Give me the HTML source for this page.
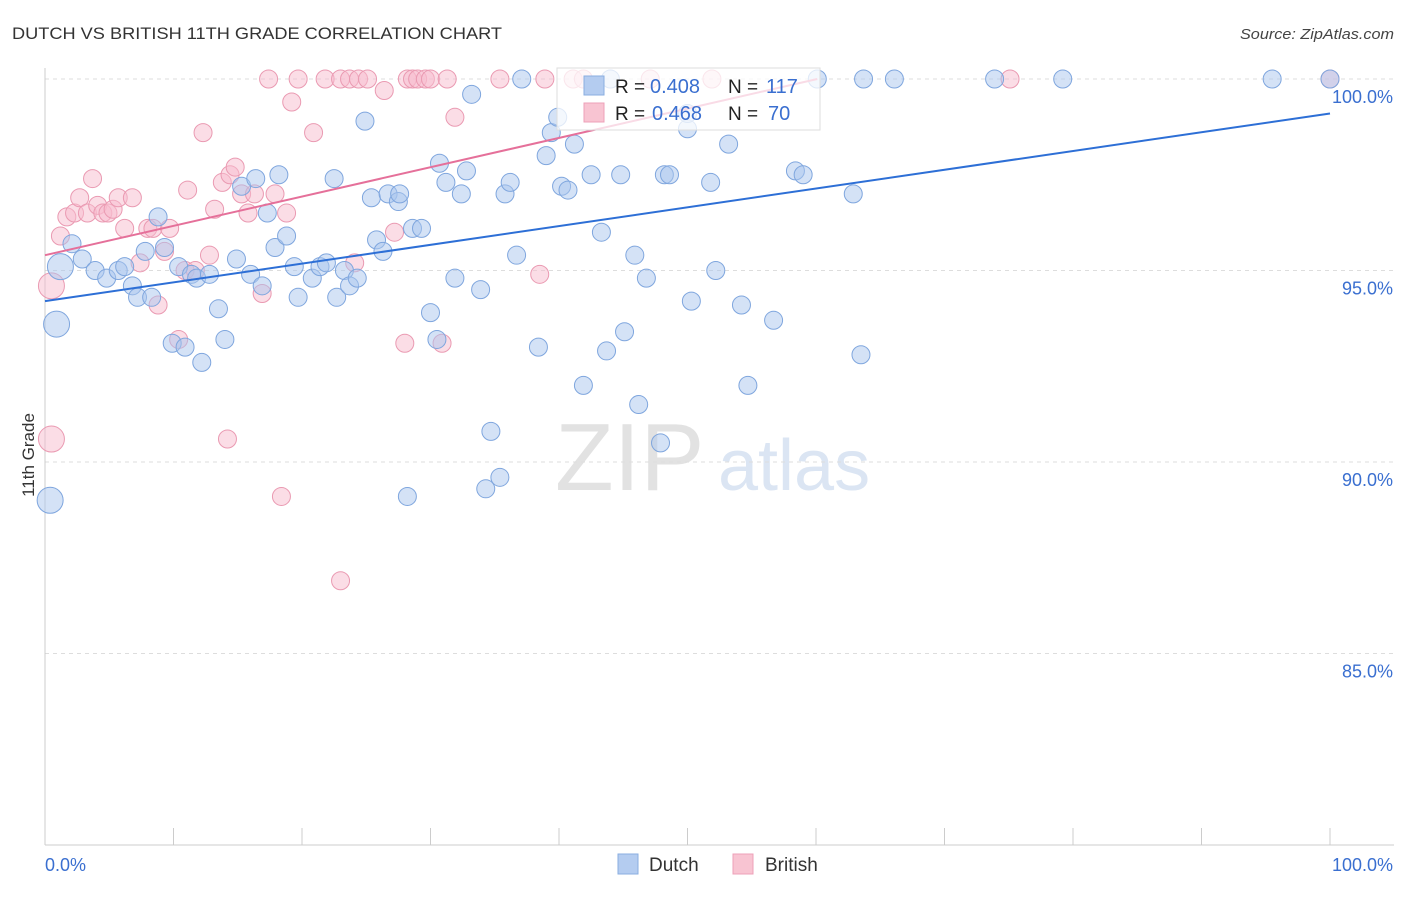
<!DOCTYPE html>
<html><head><meta charset="utf-8">
<style>
body{margin:0;background:#fff;font-family:"Liberation Sans",sans-serif;}
svg text{font-family:"Liberation Sans",sans-serif;}
</style></head>
<body>
<svg id="chart" width="1406" height="892" xmlns="http://www.w3.org/2000/svg">
<text x="12" y="39" font-size="17" fill="#333" textLength="490" lengthAdjust="spacingAndGlyphs">DUTCH VS BRITISH 11TH GRADE CORRELATION CHART</text>
<text x="1394" y="39" font-size="15" fill="#444" text-anchor="end" font-style="italic" textLength="154" lengthAdjust="spacingAndGlyphs">Source: ZipAtlas.com</text>
<g>
<text x="555" y="490" font-size="96" fill="#e2e2e2" font-family="Liberation Serif,serif">ZIP</text>
<text x="718" y="490" font-size="72" fill="#dbe5f3">atlas</text>
</g>
<g id="grid"></g>
<g id="axes"></g>
<g id="pts"></g>
<g id="lines"></g>
<text transform="translate(34,455) rotate(-90)" font-size="17" fill="#333" text-anchor="middle">11th Grade</text>
<g>
<rect x="557" y="68" width="263" height="62" fill="#fff" fill-opacity="0.75" stroke="#ddd"/>
<rect x="584" y="76" width="20" height="19" fill="#b4ccf0" stroke="#8aaee0"/>
<rect x="584" y="103" width="20" height="19" fill="#f8c4d2" stroke="#eea0b8"/>
<text x="615" y="93" font-size="19" fill="#222">R =</text>
<text x="650" y="93" font-size="20" fill="#3a6fd0">0.408</text>
<text x="728" y="93" font-size="19" fill="#222">N =</text>
<text x="766" y="93" font-size="20" fill="#3a6fd0">117</text>
<text x="615" y="120" font-size="19" fill="#222">R =</text>
<text x="652" y="120" font-size="20" fill="#3a6fd0">0.468</text>
<text x="728" y="120" font-size="19" fill="#222">N =</text>
<text x="768" y="120" font-size="20" fill="#3a6fd0">70</text>
</g>
<g>
<rect x="618" y="854" width="20" height="20" fill="#b4ccf0" stroke="#8aaee0"/>
<text x="649" y="871" font-size="19" fill="#333">Dutch</text>
<rect x="733" y="854" width="20" height="20" fill="#f8c4d2" stroke="#eea0b8"/>
<text x="765" y="871" font-size="19" fill="#333">British</text>
</g>
</svg>
<script>
const blueX=[0.9,0.4,1.2,2.1,2.9,3.9,4.8,5.7,6.2,6.8,7.2,8.3,7.8,8.8,9.3,9.9,10.4,10.9,11.4,11.8,12.2,12.8,13.5,14.0,14.9,15.3,16.0,16.4,16.9,17.3,17.9,18.2,18.8,19.4,19.7,20.8,21.4,21.9,22.5,22.7,23.3,23.7,24.3,24.9,25.4,25.8,26.3,26.7,27.5,27.6,28.2,28.6,29.3,30.0,30.5,30.7,31.2,31.9,32.4,32.8,33.2,33.9,34.3,34.7,35.4,35.8,36.2,36.7,37.1,38.4,39.0,39.4,39.9,40.2,40.7,41.2,41.9,42.5,43.3,43.7,44.0,44.8,45.1,45.9,46.2,46.8,47.9,48.2,48.6,50.0,50.0,50.3,51.8,52.2,53.2,54.2,54.7,56.7,58.4,59.0,60.1,62.9,63.5,63.7,66.1,73.9,79.2,95.5,100];
const blueY=[93.6,89.0,95.1,95.7,95.3,95.0,94.8,95.0,95.1,94.6,94.3,94.3,95.5,96.4,95.6,93.1,95.1,93.0,94.9,94.8,92.6,94.9,94.0,93.2,95.3,97.2,94.9,97.4,94.6,96.5,95.6,97.5,95.9,95.1,94.3,94.8,95.1,95.2,97.4,94.3,95.0,94.6,94.8,98.9,96.9,95.8,95.5,97.0,96.8,97.0,89.1,96.1,96.1,93.9,93.2,97.8,97.3,94.8,97.0,97.6,99.6,94.5,89.3,90.8,89.6,97.0,97.3,95.4,100,93.0,98.0,98.6,99.0,97.2,97.1,98.3,92.0,97.5,96.0,92.9,100,97.5,93.4,95.4,91.5,94.8,90.5,97.5,97.5,98.7,99.1,94.2,97.3,95.0,98.3,94.1,92.0,93.7,97.6,97.5,100,97.0,92.8,100,100,100,100,100,100];
const blueBig=[0,1,2];
const pinkX=[0.5,0.5,1.2,1.7,2.3,2.7,3.3,3.7,4.1,4.5,4.9,5.3,5.7,6.2,6.8,7.4,8.0,8.4,8.8,9.3,9.7,10.4,10.9,11.1,11.7,12.3,12.8,13.2,13.8,14.2,14.4,14.8,15.3,15.8,16.3,16.9,17.4,17.9,18.4,18.8,19.2,19.7,20.9,21.8,23.0,23.0,23.7,24.1,24.4,25.1,26.4,27.2,28.0,28.2,28.6,29.0,29.6,30.0,30.9,31.3,31.9,35.4,38.5,38.9,41.1,41.9,47.1,51.9,75.1,100];
const pinkY=[94.6,90.6,95.9,96.4,96.5,96.9,96.5,97.4,96.7,96.5,96.5,96.6,96.9,96.1,96.9,95.2,96.1,96.1,94.1,95.5,96.1,93.2,95.0,97.1,95.0,98.6,95.4,96.6,97.3,90.6,97.5,97.7,97.0,96.5,97.0,94.4,100,97.0,89.1,96.5,99.4,100,98.6,100,86.9,100,100,95.2,100,100,99.7,96.0,93.1,100,100,100,100,100,93.1,100,99.0,100,94.9,100,100,100,100,100,100,100];
const pinkBig=[0,1];
const yTicks=[85,90,95,100];
const yTickLabels=["85.0%","90.0%","95.0%","100.0%"];
const blueTrend=[94.2,99.1];
const pinkTrend=[95.4,100];
const pinkTrendEnd=60.1;

const X0=45,X1=1330,Y100=79,PPU=38.3;
const sx=v=>X0+(X1-X0)*v/100;
const sy=v=>Y100+(100-v)*PPU;
const NS="http://www.w3.org/2000/svg";
function mk(tag,attrs,parent){const e=document.createElementNS(NS,tag);for(const k in attrs)e.setAttribute(k,attrs[k]);parent.appendChild(e);return e;}
const grid=document.getElementById('grid'),axes=document.getElementById('axes'),pts=document.getElementById('pts'),lines=document.getElementById('lines');
yTicks.forEach((t,i)=>{
  const l=mk('line',{x1:X0,x2:1394,y1:sy(t),y2:sy(t),stroke:'#ddd','stroke-dasharray':'4,4'},grid);
  
  
  const tx=mk('text',{x:1393,y:sy(t)+24,'font-size':18,fill:'#3a6fd0','text-anchor':'end'},axes);
  tx.textContent=yTickLabels[i];
  
  
});
const yax=mk('line',{x1:X0,x2:X0,y1:68,y2:845,stroke:'#ccc'},axes);


const xax=mk('line',{x1:X0,x2:1394,y1:845,y2:845,stroke:'#ccc'},axes);


for(let i=0;i<=10;i++){
  const t=mk('line',{x1:sx(i*10),x2:sx(i*10),y1:828,y2:845,stroke:'#ccc'},axes);
  
  
}
[[0,'0.0%','start',45],[100,'100.0%','end',1393]].forEach(a=>{
  const t=mk('text',{x:a[3],y:871,'font-size':18,fill:'#3a6fd0','text-anchor':a[2]},axes);
  t.textContent=a[1];
  
  
});
function drawPts(xs,ys,big,fill,stroke,name){
  xs.forEach((x,i)=>{
    const r=big.includes(i)?13:9;
    const c=mk('circle',{cx:sx(x),cy:sy(ys[i]),r:r,fill:fill,'fill-opacity':0.5,stroke:stroke,'stroke-width':1},pts);
    
    
  });
}
drawPts(pinkX,pinkY,pinkBig,'#f8bccd','#ea9ab2','british-point');
drawPts(blueX,blueY,blueBig,'#aac6ee','#7fa6de','dutch-point');
const bl=mk('line',{x1:sx(0),y1:sy(blueTrend[0]),x2:sx(100),y2:sy(blueTrend[1]),stroke:'#2d6fd6','stroke-width':2},lines);


const pl=mk('line',{x1:sx(0),y1:sy(pinkTrend[0]),x2:sx(pinkTrendEnd),y2:sy(pinkTrend[1]),stroke:'#e5709a','stroke-width':2},lines);


</script>
</body></html>
